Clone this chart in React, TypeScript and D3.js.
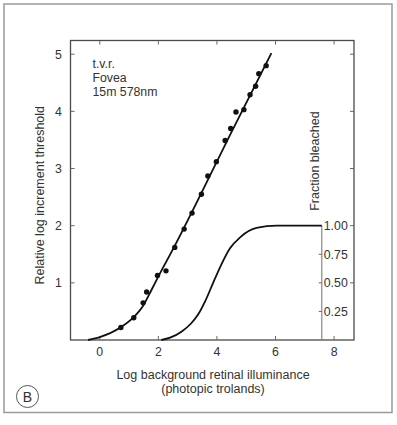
import React from "react";
import * as d3 from "d3";

// Data
const dataX = [0.72, 1.16, 1.48, 1.6, 1.97, 2.26, 2.56, 2.88, 3.15, 3.47, 3.69, 3.98, 4.28, 4.47, 4.65, 4.92, 5.13, 5.32, 5.43, 5.68];
const dataY = [0.22, 0.39, 0.65, 0.84, 1.13, 1.21, 1.62, 1.94, 2.22, 2.55, 2.87, 3.12, 3.49, 3.7, 3.99, 4.03, 4.29, 4.44, 4.66, 4.8];

const fitX = [-0.4, 0, 0.68, 1.14, 1.48, 1.76, 2.05, 2.5, 3.4, 4.44, 5.86];
const fitY = [0, 0.05, 0.21, 0.39, 0.6, 0.87, 1.16, 1.59, 2.5, 3.58, 5.02];

const bleachX = [2.1, 2.4, 2.8, 3.1, 3.35, 3.6, 3.87, 4.15, 4.44, 4.8, 5.35, 6.05, 7.58];
const bleachF = [0, 0.02, 0.075, 0.14, 0.22, 0.34, 0.5, 0.66, 0.8, 0.9, 0.98, 1.0, 1.0];

const xTicks = [0, 2, 4, 6, 8];
const yTicks = [1, 2, 3, 4, 5];
const fTicks = [0.25, 0.5, 0.75, 1.0];
const fAxisX = 7.58;

const annotation = ["t.v.r.", "Fovea", "15m 578nm"];

export default function App() {
  const W = 397, H = 425;
  const left = 70.5, right = 354, top = 40.5, bottom = 340;
  const x = d3.scaleLinear().domain([-1, 8.68]).range([left, right]);
  const y = d3.scaleLinear().domain([0, 5.24]).range([bottom, top]);
  const fy = (f: number) => y(2 * f);

  const fitLine = d3
    .line<number>()
    .x((_, i) => x(fitX[i]))
    .y((d) => y(d))
    .curve(d3.curveMonotoneX)(fitY);

  const bleachLine = d3
    .line<number>()
    .x((_, i) => x(bleachX[i]))
    .y((d) => fy(d))
    .curve(d3.curveMonotoneX)(bleachF);

  const font = "'Liberation Sans', Arial, Helvetica, sans-serif";
  const frameColor = "#4a4a4a";
  const tickColor = "#666";
  const textColor = "#333";
  const fs = 12.3;
  const tfs = 12.5;

  return (
    <svg
      width={W}
      height={H}
      style={{ position: "absolute", left: 0, top: 0, background: "#fff" }}
      fontFamily={font}
    >
      <rect x={4} y={4} width={388} height={408.5} fill="#fff" stroke="#9a9a9a" strokeWidth={1.5} />

      {/* frame */}
      <rect x={left} y={top} width={right - left} height={bottom - top} fill="none" stroke={frameColor} strokeWidth={1.3} />

      {/* x ticks (top & bottom, inward) */}
      {xTicks.map((t) => (
        <g key={"xt" + t}>
          <line x1={x(t)} x2={x(t)} y1={bottom} y2={bottom - 4} stroke={tickColor} strokeWidth={1} />
          <line x1={x(t)} x2={x(t)} y1={top} y2={top + 4} stroke={tickColor} strokeWidth={1} />
          <text x={x(t)} y={bottom + 16} textAnchor="middle" fontSize={fs} fill={textColor}>
            {t}
          </text>
        </g>
      ))}

      {/* y ticks (left & right, inward) */}
      {yTicks.map((t) => (
        <g key={"yt" + t}>
          <line x1={left} x2={left + 4} y1={y(t)} y2={y(t)} stroke={tickColor} strokeWidth={1} />
          <line x1={right} x2={right - 4} y1={y(t)} y2={y(t)} stroke={tickColor} strokeWidth={1} />
          <text x={left - 12} y={y(t)} dy="0.35em" textAnchor="middle" fontSize={fs} fill={textColor}>
            {t}
          </text>
        </g>
      ))}

      {/* fraction bleached axis */}
      <line x1={x(fAxisX)} x2={x(fAxisX)} y1={bottom} y2={fy(1)} stroke="#888" strokeWidth={1.2} />
      {fTicks.map((t) => (
        <g key={"ft" + t}>
          <line x1={x(fAxisX)} x2={x(fAxisX) - 3} y1={fy(t)} y2={fy(t)} stroke={tickColor} strokeWidth={1} />
          <text x={x(fAxisX) + 2} y={fy(t)} dy="0.35em" fontSize={fs} fill={textColor}>
            {t.toFixed(2)}
          </text>
        </g>
      ))}
      <text
        transform={`translate(${x(fAxisX) - 3},${y(3.13)}) rotate(-90)`}
        textAnchor="middle"
        fontSize={tfs}
        fill={textColor}
      >
        Fraction bleached
      </text>

      {/* curves */}
      <path d={fitLine || ""} fill="none" stroke="#111" strokeWidth={1.8} />
      <path d={bleachLine || ""} fill="none" stroke="#111" strokeWidth={1.8} />

      {dataX.map((d, i) => (
        <circle key={"p" + i} cx={x(d)} cy={y(dataY[i])} r={2.7} fill="#111" />
      ))}

      {/* annotation */}
      {annotation.map((s, i) => (
        <text key={"a" + i} x={92.5} y={63.3 + i * 14} dy="0.35em" fontSize={fs} fill={textColor}>
          {s}
        </text>
      ))}

      {/* axis titles */}
      <text
        transform={`translate(39.5,${(top + bottom) / 2 + 5}) rotate(-90)`}
        dy="0.35em"
        textAnchor="middle"
        fontSize={tfs}
        fill={textColor}
      >
        Relative log increment threshold
      </text>
      <text x={213} y={375} dy="0.35em" textAnchor="middle" fontSize={tfs} fill={textColor}>
        Log background retinal illuminance
      </text>
      <text x={213} y={388.5} dy="0.35em" textAnchor="middle" fontSize={tfs} fill={textColor}>
        (photopic trolands)
      </text>

      {/* panel label */}
      <circle cx={27.5} cy={396.5} r={11} fill="none" stroke="#555" strokeWidth={1} />
      <text x={27.5} y={396.8} dy="0.36em" textAnchor="middle" fontSize={14} fill={textColor}>
        B
      </text>
    </svg>
  );
}
